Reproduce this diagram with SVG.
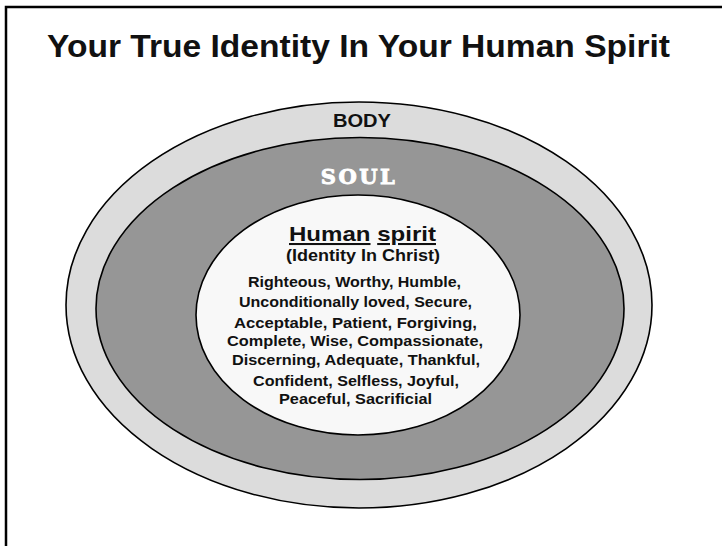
<svg xmlns="http://www.w3.org/2000/svg" width="722" height="546" viewBox="0 0 722 546">
<style>
.ring{stroke:#000;stroke-width:1.6}
.t{font-family:"Liberation Sans",Arial,sans-serif;font-weight:bold;text-anchor:middle;fill:#111}
.list{font-size:15px}
</style>
<rect x="0" y="0" width="722" height="546" fill="#fff"/>
<path d="M6,546 V7 H722" fill="none" stroke="#000" stroke-width="2.5"/>
<text class="t" x="358.5" y="57" font-size="31" textLength="623" lengthAdjust="spacingAndGlyphs">Your True Identity In Your Human Spirit</text>
<g id="body">
<ellipse class="ring" cx="359" cy="305" rx="293" ry="203" fill="#dcdcdc"/>
<text class="t" x="362" y="127" font-size="19" textLength="58" lengthAdjust="spacingAndGlyphs">BODY</text>
</g>
<g id="soul">
<ellipse class="ring" cx="360" cy="308.5" rx="264" ry="171" fill="#969696"/>
<text x="359" y="184" font-family="'DejaVu Serif',serif" font-weight="bold" font-size="21" letter-spacing="2.5" text-anchor="middle" fill="#fff" stroke="#fff" stroke-width="0.9">SOUL</text>
</g>
<g id="spirit">
<ellipse class="ring" cx="358" cy="315" rx="162" ry="120" fill="#f8f8f8"/>
<text class="t" x="362.5" y="241" font-size="20.5" textLength="147" lengthAdjust="spacingAndGlyphs"><tspan text-decoration="underline">Human</tspan> <tspan text-decoration="underline">spirit</tspan></text>
<text class="t" x="363" y="261" font-size="16" textLength="154" lengthAdjust="spacingAndGlyphs">(Identity In Christ)</text>
<text class="t list" x="354.5" y="287" textLength="213" lengthAdjust="spacingAndGlyphs">Righteous, Worthy, Humble,</text>
<text class="t list" x="355.5" y="307" textLength="233" lengthAdjust="spacingAndGlyphs">Unconditionally loved, Secure,</text>
<text class="t list" x="355.5" y="328" textLength="243" lengthAdjust="spacingAndGlyphs">Acceptable, Patient,  Forgiving,</text>
<text class="t list" x="355" y="346" textLength="256" lengthAdjust="spacingAndGlyphs">Complete, Wise, Compassionate,</text>
<text class="t list" x="356" y="365" textLength="248" lengthAdjust="spacingAndGlyphs">Discerning, Adequate, Thankful,</text>
<text class="t list" x="356" y="386" textLength="206" lengthAdjust="spacingAndGlyphs">Confident, Selfless, Joyful,</text>
<text class="t list" x="355.5" y="404" textLength="153" lengthAdjust="spacingAndGlyphs">Peaceful, Sacrificial</text>
</g>
</svg>
